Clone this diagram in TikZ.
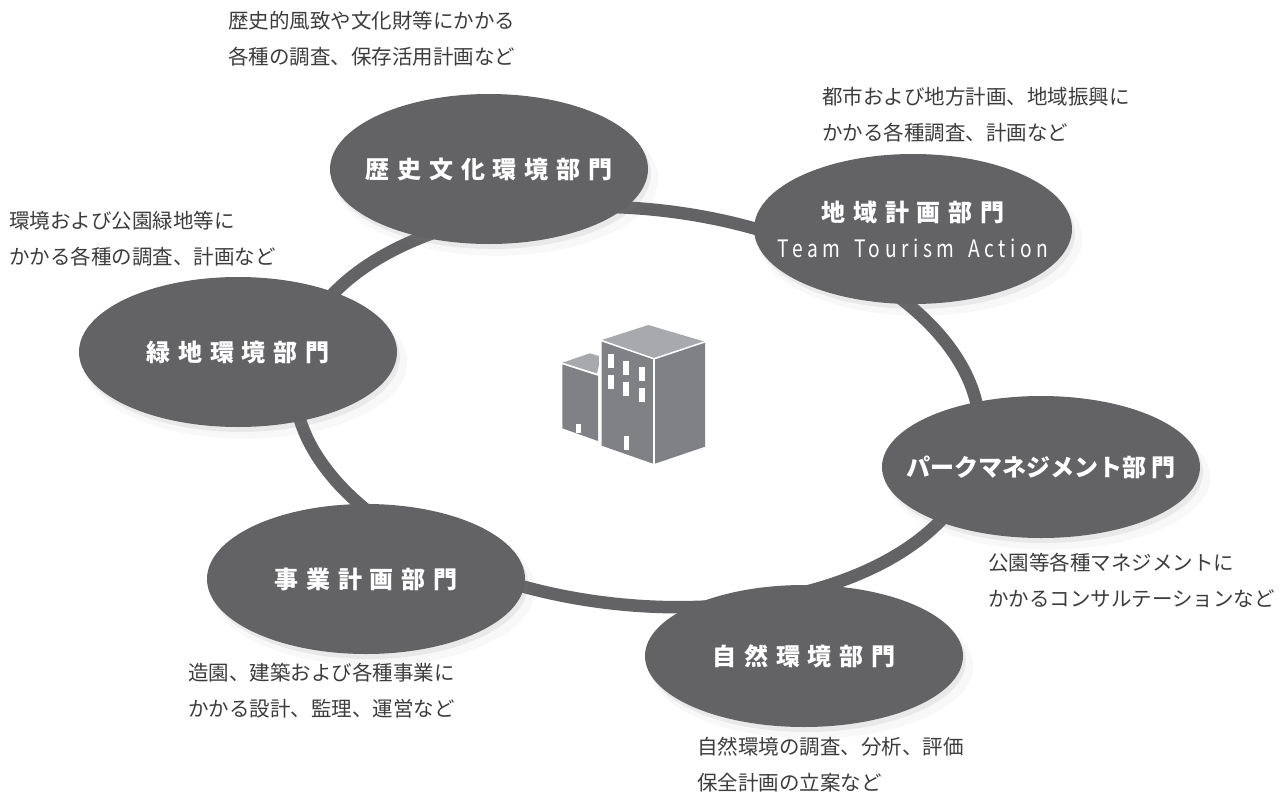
\documentclass[tikz,border=0pt]{standalone}
\usepackage{fontspec}
\setmainfont{Noto Sans CJK JP}
\newfontfamily\deptfont{Noto Sans CJK JP}[LetterSpace=33]
\newfontfamily\teamfont{Noto Sans CJK JP}[LetterSpace=19,FakeStretch=0.8]
\usepackage{xcolor}
\definecolor{Col1}{RGB}{99,99,102}
\definecolor{Col2}{RGB}{128,129,132}
\definecolor{Col3}{RGB}{168,169,172}
\definecolor{Col4}{RGB}{60,60,60}
\usepackage{tikz}
\usetikzlibrary{shapes.geometric}
\usetikzlibrary{shadows}
\tikzstyle{Dept}=[ellipse,fill=Col1,text=white,inner ysep=0pt,inner xsep=-80pt,
align=center,minimum width=318pt,minimum height=150pt,
font=\deptfont\bfseries\fontsize{24}{36}\selectfont,
drop shadow={shadow xshift=7pt,shadow yshift=-10pt,opacity=.06,shadow scale=1.02},
drop shadow={shadow xshift=3pt,shadow yshift=-5pt,opacity=.12}]
\tikzstyle{Ring}=[ellipse,draw=Col1,line width=12.5pt,inner sep=0pt,
minimum width=688pt,minimum height=396pt]
\tikzstyle{Note}=[anchor=west,align=left,inner sep=0pt,text=Col4,
font=\fontsize{20.5}{36}\selectfont]
\tikzstyle{Face}=[fill=Col2]
\tikzstyle{Roof}=[fill=Col3]
\tikzstyle{Edge}=[draw=white,line width=1.5pt]

\begin{document}
\begin{tikzpicture}[x=1pt,y=-1pt]
        \useasboundingbox (0,0) rectangle (1285,792);
        \node[Ring,rotate=-6](ring)at(637,407){};
        % building
        \fill[Roof](562.3,362.7)--(590,353.3)--(601,356.7)--(597,373.5)--cycle;
        \fill[Face](562.3,364)--(598,375.5)--(598,441)--(562.3,428.3)--cycle;
        \draw[Edge](562.3,363.5)--(598,375);
        \fill[white](576,424)rectangle(580.7,433.3);
        \fill[Roof](601.7,340)--(648.3,325)--(705,341.7)--(653.3,358.3)--cycle;
        \fill[Face](601.7,341)--(654,359)--(654,464)--(601.7,445.7)--cycle;
        \fill[Face](654,359)--(705,342)--(705,446.7)--(654,464)--cycle;
        \draw[Edge](601.7,340.7)--(654,358.8)--(705,341.8);
        \draw[Edge](654,359)--(654,464);
        \draw[Edge](599.8,356)--(599.8,443);
        \foreach \x/\y in {608.3/354.3,608.3/375,623.3/360.7,623.3/381.7,639/366.7,639/388.3}
            \fill[white](\x,\y)rectangle++(5.8,14);
        \fill[white](624,435.7)rectangle(629.3,450);
        % departments
        \node[Dept](hist)at(489,169){歴史文化環境部門};
        \node[Dept](area)at(913,229){地域計画部門\\
            {\teamfont\mdseries\fontsize{24}{36}\selectfont Team\hspace{5pt} Tourism\hspace{5pt} Action}};
        \node[Dept](green)at(238,352){緑地環境部門};
        \node[Dept,minimum height=142pt,font=\bfseries\fontsize{24}{36}\selectfont](park)at(1041,467){パークマネジメント部\hspace{5pt}門};
        \node[Dept](biz)at(366,579){事業計画部門};
        \node[Dept,minimum height=142pt](nat)at(804,656){自然環境部門};
        % notes
        \node[Note](histnote)at(228,38.5){歴史的風致や文化財等にかかる\\各種の調査、保存活用計画など};
        \node[Note](areanote)at(822,115){都市および地方計画、地域振興に\\かかる各種調査、計画など};
        \node[Note](greennote)at(9,238.5){環境および公園緑地等に\\かかる各種の調査、計画など};
        \node[Note](parknote)at(988,580){公園等各種マネジメントに\\かかるコンサルテーションなど};
        \node[Note](biznote)at(188,690.5){造園、建築および各種事業に\\かかる設計、監理、運営など};
        \node[Note](natnote)at(697,765){自然環境の調査、分析、評価\\保全計画の立案など};
    \end{tikzpicture}
\end{document}
